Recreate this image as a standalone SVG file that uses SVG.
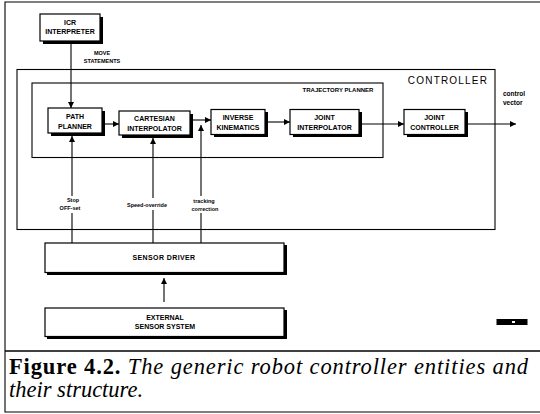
<svg xmlns="http://www.w3.org/2000/svg" width="540" height="414" viewBox="0 0 540 414">
<style>
.box{fill:#fff;stroke:#000;stroke-width:1.2}
.sh{fill:#000}
.frame{fill:none;stroke:#000;stroke-width:1.1}
.t{font-family:"Liberation Sans",Arial,sans-serif;font-weight:bold;font-size:7px;text-anchor:middle;fill:#000}
.s{font-family:"Liberation Sans",Arial,sans-serif;font-weight:bold;font-size:5.5px;text-anchor:middle;fill:#000}
.c{stroke:#000;stroke-width:1.1;fill:none}
.a{marker-end:url(#ah)}
</style>
<defs>
<marker id="ah" viewBox="0 0 10 10" refX="10" refY="5" markerWidth="6" markerHeight="6" markerUnits="userSpaceOnUse" orient="auto">
<path d="M0,0 L10,5 L0,10 Z" fill="#000"/>
</marker>
</defs>
<rect width="540" height="414" fill="#fff"/>
<g id="frame">
<path class="frame" d="M540,2 H5 V412 H540" stroke-width="1.6"/>
<line x1="5" y1="351" x2="540" y2="351" stroke="#000" stroke-width="1.6"/>
</g>
<g id="controller">
<rect x="17" y="69.5" width="478" height="160" fill="none" stroke="#000" stroke-width="1.1"/>
<text x="448" y="84" font-family="Liberation Sans,Arial,sans-serif" font-size="10" letter-spacing="1.2" text-anchor="middle">CONTROLLER</text>
</g>
<g id="trajectory-planner">
<rect x="32" y="83" width="351" height="74.5" fill="none" stroke="#000" stroke-width="1.1"/>
<text x="338" y="91.5" class="s" style="font-size:6px">TRAJECTORY PLANNER</text>
</g>
<g id="connectors">
<line class="c a" x1="71" y1="44" x2="71" y2="108"/>
<line class="c a" x1="102" y1="124" x2="119" y2="124"/>
<line class="c a" x1="190" y1="120" x2="211" y2="120"/>
<line class="c a" x1="265" y1="122" x2="290" y2="122"/>
<line class="c a" x1="362" y1="124" x2="404" y2="124"/>
<line class="c a" x1="467" y1="124" x2="516" y2="124"/>
<line class="c a" x1="72" y1="196" x2="72" y2="136"/>
<line class="c" x1="72" y1="213" x2="72" y2="243"/>
<line class="c a" x1="153" y1="198" x2="153" y2="138"/>
<line class="c" x1="153" y1="210" x2="153" y2="243"/>
<line class="c a" x1="201" y1="196" x2="201" y2="125"/>
<line class="c" x1="201" y1="213" x2="201" y2="243"/>
<line class="c a" x1="164" y1="302" x2="164" y2="278"/>
<text class="s" x="102" y="55">MOVE</text>
<text class="s" x="102" y="62.5">STATEMENTS</text>
<text class="s" x="73" y="202">Stop</text>
<text class="s" x="70" y="210">OFF-set</text>
<text class="s" x="147" y="206.5">Speed-override</text>
<text class="s" x="204" y="203">tracking</text>
<text class="s" x="205" y="210.5">correction</text>
<text class="s" x="503" y="96" style="font-size:6.5px;text-anchor:start">control</text>
<text class="s" x="503" y="104.5" style="font-size:6.5px;text-anchor:start">vector</text>
</g>
<g id="icr-interpreter">
<rect class="sh" x="43" y="17" width="60" height="27"/>
<rect class="box" x="40" y="14" width="60" height="27"/>
<text class="t" x="70" y="25">ICR</text>
<text class="t" x="70" y="34">INTERPRETER</text>
</g>
<g id="path-planner">
<rect class="sh" x="51" y="111" width="54" height="25"/>
<rect class="box" x="48" y="108" width="54" height="25"/>
<text class="t" x="75" y="119">PATH</text>
<text class="t" x="75" y="128.5">PLANNER</text>
</g>
<g id="cartesian-interpolator">
<rect class="sh" x="122" y="114" width="71" height="24"/>
<rect class="box" x="119" y="111" width="71" height="24"/>
<text class="t" x="154.5" y="121">CARTESIAN</text>
<text class="t" x="154.5" y="130.5">INTERPOLATOR</text>
</g>
<g id="inverse-kinematics">
<rect class="sh" x="214" y="112" width="54" height="25"/>
<rect class="box" x="211" y="109.5" width="54" height="25"/>
<text class="t" x="238" y="120">INVERSE</text>
<text class="t" x="238" y="129.5">KINEMATICS</text>
</g>
<g id="joint-interpolator">
<rect class="sh" x="293" y="112" width="69" height="25"/>
<rect class="box" x="290" y="109.5" width="69" height="25"/>
<text class="t" x="324.5" y="119.5">JOINT</text>
<text class="t" x="324.5" y="129.5">INTERPOLATOR</text>
</g>
<g id="joint-controller">
<rect class="sh" x="407" y="112" width="61" height="25"/>
<rect class="box" x="404" y="109.5" width="61" height="25"/>
<text class="t" x="434.5" y="119.5">JOINT</text>
<text class="t" x="434.5" y="129.5">CONTROLLER</text>
</g>
<g id="sensor-driver">
<rect class="sh" x="47" y="245" width="240" height="30"/>
<rect class="box" x="45" y="243" width="239" height="29.5"/>
<text class="t" x="164" y="260" letter-spacing="0.4">SENSOR DRIVER</text>
</g>
<g id="external-sensor-system">
<rect class="sh" x="47" y="310" width="240" height="29"/>
<rect class="box" x="45" y="308" width="239" height="28.5"/>
<text class="t" x="165" y="319.5">EXTERNAL</text>
<text class="t" x="165" y="328.5">SENSOR SYSTEM</text>
</g>
<g id="stamp">
<rect x="497" y="319.5" width="30" height="5" fill="#000" stroke="#000" stroke-width="1"/>
<rect x="512" y="321" width="3" height="2" fill="#fff"/>
</g>
<g id="caption" font-family="Liberation Serif,'Times New Roman',serif" font-size="22.5">
<text x="9" y="374" textLength="519" lengthAdjust="spacing"><tspan font-weight="bold">Figure 4.2.</tspan><tspan font-style="italic"> The generic robot controller entities and</tspan></text>
<text x="9" y="397" font-style="italic">their structure.</text>
</g>
</svg>
